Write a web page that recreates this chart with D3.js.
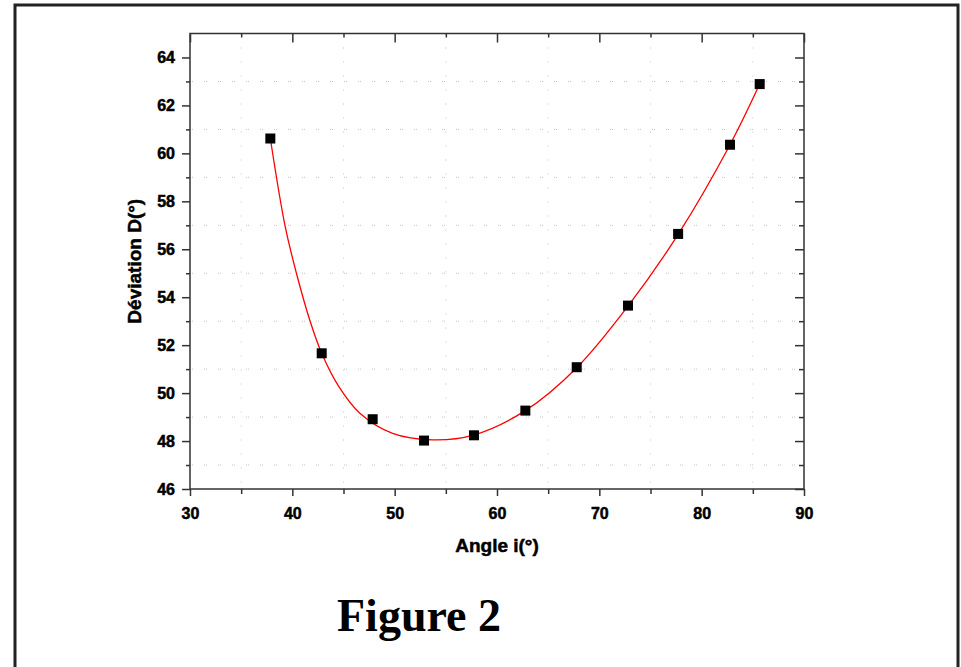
<!DOCTYPE html>
<html>
<head>
<meta charset="utf-8">
<script src="https://cdn.jsdelivr.net/npm/d3@7"></script>
<style>
  body { margin: 0; background: #fff; }
  .tick-label { font-family: "Liberation Sans", Arial, sans-serif; font-weight: bold; font-size: 16px; fill: #000; stroke: #000; stroke-width: 0.5px; }
  .axis-title { font-family: "Liberation Sans", Arial, sans-serif; font-weight: bold; font-size: 19px; fill: #000; stroke: #000; stroke-width: 0.5px; }
</style>
</head>
<body>
<div id="chart"></div>
<script>
// Measured points: angle of incidence i (deg) vs deviation D (deg)
const angleI = [37.85, 42.87, 47.85, 52.87, 57.75, 62.77, 67.79, 72.8, 77.7, 82.77, 85.67];
const deviationD = [60.62, 51.66, 48.91, 48.02, 48.24, 49.27, 51.08, 53.65, 56.64, 60.36, 62.89];

// Fitted curve
const fitI = [37.85, 39.3, 40.4, 41.7, 42.87, 44.5, 46.6, 49.8, 53.7, 57.7, 62.77, 67.79, 72.8, 77.7, 82.77, 85.67];
const fitD = [60.62, 56.95, 55.0, 53.05, 51.66, 50.3, 49.16, 48.32, 48.05, 48.25, 49.27, 51.06, 53.63, 56.62, 60.36, 62.89];

// Tick values
const xMajor = [30, 40, 50, 60, 70, 80, 90];
const xMinor = [35, 45, 55, 65, 75, 85];
const yMajor = [46, 48, 50, 52, 54, 56, 58, 60, 62, 64];
const yMinor = [47, 49, 51, 53, 55, 57, 59, 61, 63];

const width = 961, height = 667;
const plot = { left: 190, top: 33.5, right: 804, bottom: 489 };

const svg = d3.select("#chart")
  .append("svg")
  .attr("width", width)
  .attr("height", height);

// Outer frame (bottom edge is off the page)
svg.append("path")
  .attr("d", "M15,672 L15,5 L958,5 L958,672")
  .attr("fill", "none")
  .attr("stroke", "#222")
  .attr("stroke-width", 3);

const x = d3.scaleLinear().domain([30, 90]).range([plot.left, plot.right]);
const y = d3.scaleLinear().domain([46, 65]).range([plot.bottom, plot.top]);

// Dotted grid at the minor positions
const grid = svg.append("g").attr("stroke", "#c4c4c4").attr("stroke-width", 1);
grid.selectAll(".vgrid")
  .data(xMinor)
  .enter().append("line")
  .attr("x1", d => x(d)).attr("x2", d => x(d))
  .attr("y1", plot.top).attr("y2", plot.bottom)
  .attr("stroke-dasharray", "1,13");
grid.selectAll(".hgrid")
  .data(yMinor)
  .enter().append("line")
  .attr("x1", plot.left).attr("x2", plot.right)
  .attr("y1", d => y(d)).attr("y2", d => y(d))
  .attr("stroke-dasharray", "1,1,1,11");

// Axes: bottom/left outward, top/right inward
const tickColor = "#333";
function styleAxis(g) {
  g.selectAll("path.domain").remove();
  g.selectAll("line").attr("stroke", tickColor).attr("stroke-width", 1.5);
}

svg.append("g")
  .attr("transform", `translate(0,${plot.bottom})`)
  .call(d3.axisBottom(x).tickValues(xMinor).tickSize(5).tickFormat(""))
  .call(styleAxis);
svg.append("g")
  .attr("transform", `translate(0,${plot.bottom})`)
  .call(d3.axisBottom(x).tickValues(xMajor).tickSize(7).tickPadding(12).tickFormat(d3.format("d")))
  .call(styleAxis)
  .call(g => g.selectAll("text").attr("class", "tick-label").attr("fill", null).attr("dy", "0.71em"));

svg.append("g")
  .attr("transform", `translate(0,${plot.top})`)
  .call(d3.axisBottom(x).tickValues(xMinor).tickSize(4).tickFormat(""))
  .call(styleAxis);
svg.append("g")
  .attr("transform", `translate(0,${plot.top})`)
  .call(d3.axisBottom(x).tickValues(xMajor).tickSize(9).tickFormat(""))
  .call(styleAxis);

svg.append("g")
  .attr("transform", `translate(${plot.left},0)`)
  .call(d3.axisLeft(y).tickValues(yMinor).tickSize(4).tickFormat(""))
  .call(styleAxis);
svg.append("g")
  .attr("transform", `translate(${plot.left},0)`)
  .call(d3.axisLeft(y).tickValues(yMajor).tickSize(8).tickPadding(7).tickFormat(d3.format("d")))
  .call(styleAxis)
  .call(g => g.selectAll("text").attr("class", "tick-label").attr("fill", null));

svg.append("g")
  .attr("transform", `translate(${plot.right},0)`)
  .call(d3.axisLeft(y).tickValues(yMinor).tickSize(5).tickFormat(""))
  .call(styleAxis);
svg.append("g")
  .attr("transform", `translate(${plot.right},0)`)
  .call(d3.axisLeft(y).tickValues(yMajor).tickSize(9).tickFormat(""))
  .call(styleAxis);

// Plot box
svg.append("rect")
  .attr("x", plot.left).attr("y", plot.top)
  .attr("width", plot.right - plot.left)
  .attr("height", plot.bottom - plot.top)
  .attr("fill", "none")
  .attr("stroke", tickColor)
  .attr("stroke-width", 1.5);

// Fit curve
const line = d3.line()
  .x(d => x(d[0]))
  .y(d => y(d[1]))
  .curve(d3.curveCatmullRom.alpha(0.5));

svg.append("path")
  .datum(d3.zip(fitI, fitD))
  .attr("d", line)
  .attr("fill", "none")
  .attr("stroke", "#ff0000")
  .attr("stroke-width", 1.3);

// Data markers
const size = 10;
svg.append("g")
  .selectAll("rect")
  .data(d3.zip(angleI, deviationD))
  .enter().append("rect")
  .attr("x", d => x(d[0]) - size / 2)
  .attr("y", d => y(d[1]) - size / 2)
  .attr("width", size)
  .attr("height", size)
  .attr("fill", "#000");

// Axis titles
svg.append("text")
  .attr("class", "axis-title")
  .attr("x", (plot.left + plot.right) / 2)
  .attr("y", 552)
  .attr("text-anchor", "middle")
  .text("Angle i(°)");

svg.append("text")
  .attr("class", "axis-title")
  .attr("transform", `translate(141,${(plot.top + plot.bottom) / 2}) rotate(-90)`)
  .attr("text-anchor", "middle")
  .text("Déviation D(°)");

// Caption
svg.append("text")
  .attr("x", 337)
  .attr("y", 631)
  .attr("font-family", "'Liberation Serif', 'Times New Roman', serif")
  .attr("font-weight", "bold")
  .attr("font-size", 46)
  .text("Figure 2");
</script>
</body>
</html>
